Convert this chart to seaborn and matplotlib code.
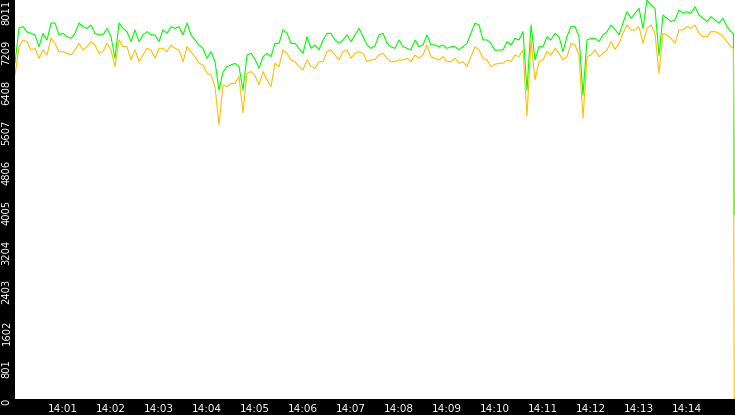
import numpy as np
import pandas as pd
import matplotlib
matplotlib.use("Agg")
import matplotlib.pyplot as plt
import seaborn as sns

# samples every 5 s from 14:00:00, then the last two seconds before 14:15
green_values = [
    6746, 7449, 7476, 7369, 7342, 7311, 7074, 7342, 7209, 7548, 7548, 7311, 7342, 7275, 7242,
    7342, 7548, 7476, 7442, 7509, 7342, 7311, 7311, 7442, 7275, 6840, 7548, 7442, 7375, 7175,
    7409, 7175, 7311, 7375, 7311, 7311, 7175, 7409, 7342, 7476, 7442, 7476, 7311, 7548, 7311,
    7209, 7108, 7040, 6840, 6974, 6773, 6200, 6570, 6673, 6706, 6740, 6673, 6200, 6907, 6940, 6820,
    6640, 6873, 6940, 6873, 7141, 7141, 7409, 7342, 7141, 7141, 7040, 6940, 7275, 7040, 7108,
    7008, 7209, 7342, 7342, 7209, 7141, 7209, 7311, 7175, 7311, 7442, 7275, 7108, 7040, 7090,
    7311, 7342, 7141, 7074, 7040, 7209, 7074, 7040, 7008, 7209, 7074, 7108, 7311, 7108, 7108,
    7074, 7108, 7040, 7074, 7074, 7008, 7074, 7141, 7342, 7548, 7509, 7209, 7209, 7141, 7000,
    7008, 7008, 7175, 7108, 7242, 7209, 7375, 6200, 7509, 6807, 7074, 7074, 7275, 7209, 7342,
    7275, 6974, 7275, 7476, 7476, 7275, 6100, 7209, 7242, 7242, 7175, 7311, 7375, 7509, 7420,
    7311, 7548, 7777, 7643, 7744, 7844, 7442, 8011, 7911, 7844, 6900, 7710, 7643, 7576, 7610,
    7810, 7744, 7777, 7744, 7877, 7710, 7643, 7576, 7677, 7610, 7543, 7643, 7476, 7375,
    7340, 3700,
]
orange_values = [
    6505, 7067, 7209, 7175, 7008, 7040, 6840, 7008, 6907, 7248, 7141, 6974, 6974, 6940, 6907,
    7008, 7141, 7008, 7074, 7175, 7108, 6940, 6974, 7141, 7008, 6673, 7209, 7074, 7074, 6807,
    7008, 6773, 6907, 7040, 7008, 6840, 7040, 7040, 6974, 7108, 7040, 7008, 6773, 7074, 6974,
    6873, 6740, 6706, 6539, 6505, 6271, 5500, 6305, 6271, 6338, 6338, 6472, 5750, 6539, 6572, 6490,
    6305, 6572, 6405, 6271, 6740, 6673, 7008, 6940, 6807, 6773, 6673, 6606, 6807, 6673, 6640,
    6773, 6773, 6974, 7008, 6907, 6807, 6974, 7008, 6840, 6940, 6974, 6940, 6773, 6807, 6820,
    6907, 6940, 6840, 6773, 6773, 6807, 6807, 6840, 6773, 6907, 6840, 6907, 7108, 6873, 6840,
    6807, 6873, 6773, 6773, 6840, 6740, 6773, 6673, 6873, 7074, 7008, 6840, 6807, 6673, 6720,
    6740, 6740, 6807, 6773, 6907, 6873, 7008, 5680, 7209, 6405, 6773, 6807, 6974, 6907, 7040,
    6940, 6807, 6873, 7141, 7108, 6907, 5640, 6873, 6907, 7008, 6873, 6940, 7008, 7175, 7020,
    7141, 7342, 7509, 7409, 7409, 7476, 7141, 7442, 7509, 7342, 6540, 7342, 7309, 7242, 7141,
    7409, 7409, 7476, 7442, 7509, 7342, 7275, 7275, 7375, 7375, 7342, 7275, 7175, 7074,
    7040, 0,
]
y_max = 8011
y_tick_labels = ["0", "801", "1602", "2403", "3204", "4005", "4806", "5607", "6408", "7209", "8011"]
x_tick_labels = ["14:01", "14:02", "14:03", "14:04", "14:05", "14:06", "14:07",
                 "14:08", "14:09", "14:10", "14:11", "14:12", "14:13", "14:14"]

start = pd.Timestamp("2024-01-01 14:00:00")
seconds = list(range(0, 900, 5)) + [898, 899]
times = start + pd.to_timedelta(seconds, unit="s")

df = pd.concat([
    pd.DataFrame({"time": times, "value": green_values, "series": "green"}),
    pd.DataFrame({"time": times, "value": orange_values, "series": "orange"}),
])

sns.set_style("white")
plt.rcParams["font.family"] = ["DejaVu Sans"]

fig = plt.figure(figsize=(7.35, 4.15), dpi=100, facecolor="black")
ax = fig.add_axes([15 / 735, 16 / 415, 720 / 735, 399 / 415])
ax.set_facecolor("white")

sns.lineplot(data=df, x="time", y="value", hue="series",
             palette={"green": "#00ff00", "orange": "#ffc000"},
             linewidth=0.8, legend=False, ax=ax, estimator=None)

ax.set_xlim(start, start + pd.Timedelta(minutes=15))
ax.set_ylim(0, y_max)

x_ticks = [start + pd.Timedelta(minutes=i + 1) for i in range(len(x_tick_labels))]
ax.set_xticks(x_ticks)
ax.set_xticklabels(x_tick_labels)
ax.set_yticks([y_max * i / 10 for i in range(len(y_tick_labels))])
ax.set_yticklabels(y_tick_labels, rotation=90, va="top")

ax.tick_params(axis="x", colors="white", length=4.5, width=0.8, pad=-0.8, labelsize=7.5)
ax.tick_params(axis="y", colors="white", length=3.6, width=0.8, pad=-1.2, labelsize=7.2)
ax.set_xlabel("")
ax.set_ylabel("")
for s in ax.spines.values():
    s.set_visible(False)

fig.savefig("out.png", dpi=100, facecolor="black")
